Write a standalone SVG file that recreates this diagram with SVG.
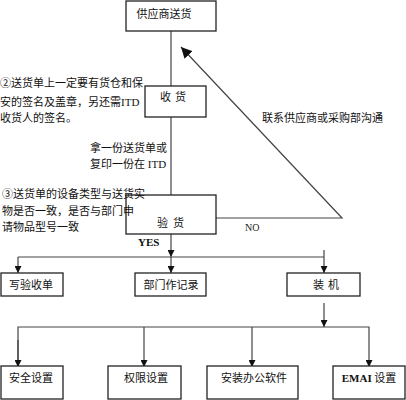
<svg xmlns="http://www.w3.org/2000/svg" width="406" height="400" viewBox="0 0 406 400">
<style>
.box{fill:#fff;stroke:#222;stroke-width:1.3}
.ln{fill:none;stroke:#444;stroke-width:1.2}
.t{font-family:"Liberation Serif","Noto Sans CJK SC",serif;font-size:11px;fill:#111}
.bt{font-family:"Noto Sans CJK SC","Liberation Sans",sans-serif;font-size:11px;fill:#111;text-anchor:middle}
.n{font-family:"Liberation Serif","Noto Sans CJK SC",serif;font-size:10px;fill:#222}
</style>
<defs>
<marker id="ah" viewBox="0 0 10 10" refX="10" refY="5" markerWidth="7" markerHeight="7" markerUnits="userSpaceOnUse" orient="auto">
<path d="M0,0 L10,5 L0,10 Z" fill="#111"/>
</marker>
<marker id="ah2" viewBox="0 0 10 10" refX="10" refY="5" markerWidth="11" markerHeight="11" markerUnits="userSpaceOnUse" orient="auto">
<path d="M0,0 L10,5 L0,10 Z" fill="#111"/>
</marker>
</defs>
<rect width="406" height="400" fill="#fff"/>
<g id="connectors">
<line class="ln" x1="171" y1="31" x2="171" y2="86"/>
<line class="ln" x1="171" y1="117" x2="171" y2="195"/>
<line class="ln" x1="171" y1="234" x2="171" y2="257" marker-end="url(#ah)"/>
<polyline class="ln" points="216,218 342,218 181,47" marker-end="url(#ah2)"/>
<line class="ln" x1="18" y1="257" x2="324" y2="257"/>
<line class="ln" x1="18" y1="257" x2="18" y2="273" marker-end="url(#ah)"/>
<line class="ln" x1="171" y1="257" x2="171" y2="273" marker-end="url(#ah)"/>
<line class="ln" x1="324" y1="250" x2="324" y2="273" marker-end="url(#ah)"/>
<line class="ln" x1="324" y1="303" x2="324" y2="327" marker-end="url(#ah)"/>
<polyline class="ln" points="18,367 18,327 369,327 369,367" marker-end="url(#ah)"/>
<line class="ln" x1="18" y1="340" x2="18" y2="367" marker-end="url(#ah)"/>
<line class="ln" x1="144" y1="327" x2="144" y2="367" marker-end="url(#ah)"/>
<line class="ln" x1="252" y1="327" x2="252" y2="367" marker-end="url(#ah)"/>
<text class="n" x="245" y="231" font-family="Liberation Sans" font-size="10">NO</text>
<text class="t" x="138" y="246" font-weight="bold" font-size="11">YES</text>
</g>
<g id="n1"><rect class="box" x="126" y="1" width="90" height="30"/><text class="bt" x="164" y="18">供应商送货</text></g>
<g id="n2"><rect class="box" x="145" y="86" width="61" height="31"/><text class="bt" x="175" y="101" letter-spacing="4">收货</text></g>
<g id="n3"><rect class="box" x="126" y="195" width="90" height="39"/><text class="bt" x="173" y="227" letter-spacing="5">验货</text></g>
<g id="n4"><rect class="box" x="1" y="273" width="62" height="23"/><text class="bt" x="31" y="289">写验收单</text></g>
<g id="n5"><rect class="box" x="135" y="273" width="71" height="23"/><text class="bt" x="171" y="289">部门作记录</text></g>
<g id="n6"><rect class="box" x="287" y="273" width="73" height="23"/><text class="bt" x="328" y="289" letter-spacing="4">装机</text></g>
<g id="n7"><rect class="box" x="1" y="366" width="62" height="33"/><text class="bt" x="31" y="382">安全设置</text></g>
<g id="n8"><rect class="box" x="108" y="366" width="73" height="33"/><text class="bt" x="146" y="382">权限设置</text></g>
<g id="n9"><rect class="box" x="207" y="366" width="91" height="33"/><text class="bt" x="254" y="382">安装办公软件</text></g>
<g id="n10"><rect class="box" x="333" y="366" width="72" height="33"/><text class="bt" x="369" y="382"><tspan font-family="Liberation Serif" font-weight="bold">EMAI</tspan> 设置</text></g>
<g id="notes">
<text class="t" x="0" y="87" font-size="10">②送货单上一定要有货仓和保</text>
<text class="t" x="0" y="106" font-size="10">安的签名及盖章，另还需ITD</text>
<text class="t" x="0" y="122" font-size="10">收货人的签名。</text>
<text class="t" x="262" y="122" font-size="10.5">联系供应商或采购部沟通</text>
<text class="t" x="90" y="152" font-size="10.5">拿一份送货单或</text>
<text class="t" x="90" y="168" font-size="10.5">复印一份在 ITD</text>
<text class="t" x="2" y="198" font-size="10">③送货单的设备类型与送货实</text>
<text class="t" x="2" y="215" font-size="10">物是否一致，是否与部门申</text>
<text class="t" x="2" y="231" font-size="10">请物品型号一致</text>
</g>
</svg>
